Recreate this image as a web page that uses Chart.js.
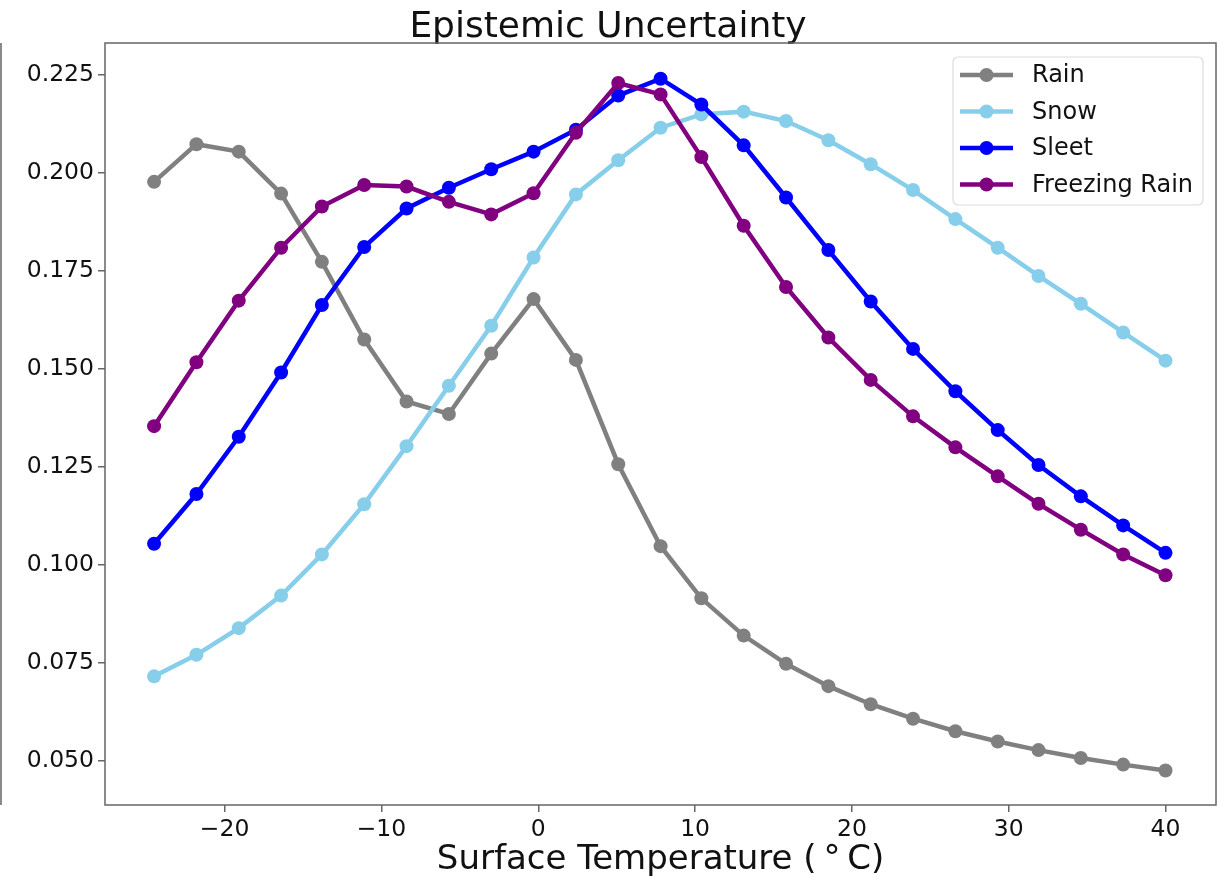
<!DOCTYPE html>
<html>
<head>
<meta charset="utf-8">
<title>Epistemic Uncertainty</title>
<script src="https://cdn.jsdelivr.net/npm/chart.js@4/dist/chart.umd.min.js"></script>
<style>
  html, body { margin: 0; padding: 0; background: #fff; }
  #wrap { position: relative; width: 1228px; height: 877px; }
  #edge { position: absolute; left: 0; top: 43px; height: 762px; border-left: 2px solid #8a8a8a; }
</style>
</head>
<body>
<div id="wrap">
  <canvas id="uncertaintyChart" width="1228" height="877"></canvas>
  <div id="edge"></div>
</div>
<script>
// Surface temperature (°C) for each sample
const temps = [-24.5, -21.8, -19.1, -16.4, -13.8, -11.1, -8.4, -5.7, -3.0, -0.3, 2.4, 5.1, 7.8,
  10.4, 13.1, 15.8, 18.5, 21.2, 23.9, 26.6, 29.3, 31.9, 34.6, 37.3, 40.0];

// Epistemic uncertainty per precipitation type
const rain = [0.1977, 0.2073, 0.2054, 0.1947, 0.1773, 0.1575, 0.1417, 0.1385, 0.1539, 0.1678,
  0.1523, 0.1257, 0.1048, 0.0915, 0.0820, 0.0748, 0.0691, 0.0645, 0.0608, 0.0576,
  0.0550, 0.0528, 0.0508, 0.0491, 0.0476];
const snow = [0.0716, 0.0771, 0.0839, 0.0922, 0.1027, 0.1155, 0.1303, 0.1457, 0.1610, 0.1784,
  0.1945, 0.2032, 0.2115, 0.2149, 0.2156, 0.2132, 0.2083, 0.2022, 0.1956, 0.1882,
  0.1809, 0.1737, 0.1666, 0.1593, 0.1521];
const sleet = [0.1054, 0.1181, 0.1327, 0.1491, 0.1663, 0.1811, 0.1909, 0.1962, 0.2009, 0.2054,
  0.2110, 0.2197, 0.2240, 0.2174, 0.2070, 0.1937, 0.1803, 0.1672, 0.1551, 0.1443,
  0.1344, 0.1255, 0.1175, 0.1101, 0.1031];
const freezingRain = [0.1354, 0.1517, 0.1674, 0.1809, 0.1914, 0.1969, 0.1965, 0.1926, 0.1894, 0.1948,
  0.2102, 0.2229, 0.2200, 0.2040, 0.1865, 0.1709, 0.1580, 0.1472, 0.1379, 0.1300,
  0.1226, 0.1156, 0.1090, 0.1027, 0.0974];

const seriesNames = ["Rain", "Snow", "Sleet", "Freezing Rain"];
const seriesColors = ["#808080", "#87ceeb", "#0000ff", "#800080"];

// Axis ranges and ticks
const xMin = -27.63;
const xMax = 43.22;
const xStep = 10;
const yMin = 0.0388;
const yMax = 0.2331;
const yStep = 0.025;

const FONT = "'DejaVu Sans', sans-serif";
const TEXT = "#111";
const AXIS = "#666";

function toPoints(values) {
  return values.map((v, i) => ({ x: temps[i], y: v }));
}

function minusSign(str) {
  return String(str).replace("-", "\u2212");
}

// Full box around the plot area
const frameBox = {
  id: "frameBox",
  afterDatasetsDraw(chart) {
    const a = chart.chartArea;
    const ctx = chart.ctx;
    ctx.save();
    ctx.strokeStyle = AXIS;
    ctx.lineWidth = 1.5;
    ctx.strokeRect(a.left, a.top, a.right - a.left, a.bottom - a.top);
    ctx.restore();
  },
};

// Legend with line + marker samples, top right inside the plot
const markerLegend = {
  id: "markerLegend",
  afterDraw(chart) {
    const a = chart.chartArea;
    const ctx = chart.ctx;
    const boxW = 250;
    const boxH = 148;
    const boxX = a.right - 13 - boxW;
    const boxY = a.top + 14;
    const rowH = 36.5;

    ctx.save();
    ctx.fillStyle = "rgba(255,255,255,0.85)";
    ctx.strokeStyle = "#dcdcdc";
    ctx.lineWidth = 1.2;
    ctx.beginPath();
    ctx.roundRect(boxX, boxY, boxW, boxH, 5);
    ctx.fill();
    ctx.stroke();

    ctx.font = "24px " + FONT;
    ctx.textBaseline = "middle";
    ctx.textAlign = "left";
    chart.data.datasets.forEach((ds, i) => {
      const cy = boxY + 18 + i * rowH;
      const x0 = boxX + 7;
      const x1 = x0 + 53;
      ctx.strokeStyle = ds.borderColor;
      ctx.lineWidth = 4.5;
      ctx.beginPath();
      ctx.moveTo(x0, cy);
      ctx.lineTo(x1, cy);
      ctx.stroke();
      ctx.fillStyle = ds.borderColor;
      ctx.beginPath();
      ctx.arc((x0 + x1) / 2, cy, 7, 0, Math.PI * 2);
      ctx.fill();
      ctx.fillStyle = TEXT;
      ctx.fillText(ds.label, x1 + 19, cy + 1);
    });
    ctx.restore();
  },
};

const allSeries = [rain, snow, sleet, freezingRain];

const datasets = allSeries.map((values, i) => ({
  label: seriesNames[i],
  data: toPoints(values),
  borderColor: seriesColors[i],
  backgroundColor: seriesColors[i],
  pointBackgroundColor: seriesColors[i],
  pointBorderWidth: 0,
  pointRadius: 7,
  borderWidth: 4.5,
  tension: 0,
  fill: false,
  // matplotlib draws later series on top
  order: allSeries.length - i,
}));

const ctx = document.getElementById("uncertaintyChart").getContext("2d");

new Chart(ctx, {
  type: "line",
  data: { datasets: datasets },
  options: {
    responsive: false,
    animation: false,
    layout: { padding: { left: 0, right: 12, top: 0, bottom: 0 } },
    plugins: {
      legend: { display: false },
      tooltip: { enabled: false },
      title: {
        display: true,
        text: "Epistemic Uncertainty",
        color: TEXT,
        font: { family: FONT, size: 36, weight: "normal", lineHeight: 1.0 },
        padding: { top: 10, bottom: -3 },
      },
    },
    scales: {
      x: {
        type: "linear",
        min: xMin,
        max: xMax,
        border: { display: false },
        grid: { drawOnChartArea: false, drawTicks: true, tickLength: 7, color: AXIS, lineWidth: 1.5 },
        ticks: {
          stepSize: xStep,
          includeBounds: false,
          padding: 4,
          color: TEXT,
          font: { family: FONT, size: 23.5 },
          maxRotation: 0,
          callback: (v) => minusSign(v),
        },
        title: {
          display: true,
          text: "Surface Temperature (\u2009\u00b0\u2009C)",
          color: TEXT,
          font: { family: FONT, size: 34, lineHeight: 1.0 },
          padding: { top: 0, bottom: 0 },
        },
        afterFit(scale) {
          scale.height = 72;
        },
      },
      y: {
        type: "linear",
        min: yMin,
        max: yMax,
        border: { display: false },
        grid: { drawOnChartArea: false, drawTicks: true, tickLength: 7, color: AXIS, lineWidth: 1.5 },
        ticks: {
          stepSize: yStep,
          includeBounds: false,
          padding: 4,
          color: TEXT,
          font: { family: FONT, size: 23.5 },
          callback: (v) => v.toFixed(3),
        },
        afterFit(scale) {
          scale.width = 105;
        },
      },
    },
  },
  plugins: [frameBox, markerLegend],
});
</script>
</body>
</html>
